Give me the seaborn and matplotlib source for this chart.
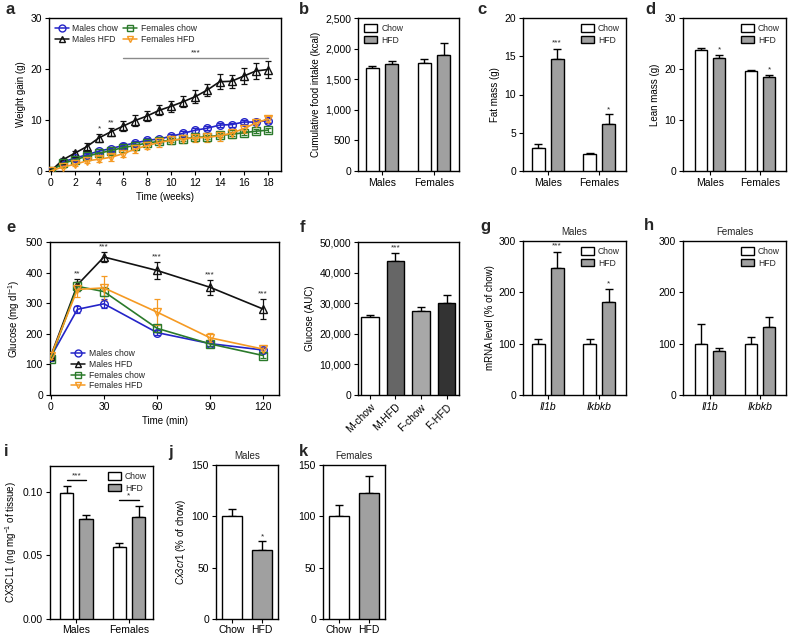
import matplotlib
matplotlib.use("Agg")
import matplotlib.pyplot as plt
import matplotlib.ticker as tick
from matplotlib.lines import Line2D
from matplotlib.patches import Patch
import numpy as np
import pandas as pd
import seaborn as sns

W, H = 788, 634
DPI = 100

BLUE = "#2424c8"
GREEN = "#2b7a2b"
ORANGE = "#f59a23"
BLACK = "#111111"
GREY = "#a0a0a0"

# ---- a: weight gain (g) over 18 weeks
WEEKS = list(range(19))
GAIN_M_CHOW = [0, 1.8, 2.5, 3.2, 3.9, 4.4, 5.0, 5.5, 6.0, 6.3, 6.8, 7.4, 8.0, 8.4, 9.0, 9.1, 9.6, 9.6, 9.9]
GAIN_M_CHOW_ERR = [0, 0.3, 0.3, 0.3, 0.4, 0.4, 0.4, 0.4, 0.4, 0.4, 0.4, 0.4, 0.5, 0.4, 0.4, 0.4, 0.4, 0.4, 0.5]
GAIN_M_HFD = [0, 2.2, 3.5, 4.8, 6.5, 7.7, 8.8, 9.9, 10.8, 11.9, 12.7, 13.6, 14.6, 15.9, 17.5, 17.6, 18.6, 19.6, 19.9]
GAIN_M_HFD_ERR = [0, 0.4, 0.5, 0.6, 0.8, 0.8, 1.0, 1.0, 1.0, 1.0, 1.1, 1.1, 1.2, 1.2, 1.5, 1.3, 1.5, 1.6, 1.6]
GAIN_F_CHOW = [0, 1.5, 2.2, 2.9, 3.5, 4.0, 4.6, 5.0, 5.5, 5.8, 6.0, 6.3, 6.6, 6.7, 7.0, 7.2, 7.5, 7.8, 8.0]
GAIN_F_CHOW_ERR = [0, 0.2, 0.3, 0.3, 0.3, 0.3, 0.3, 0.3, 0.3, 0.4, 0.4, 0.4, 0.4, 0.4, 0.4, 0.4, 0.4, 0.4, 0.4]
GAIN_F_HFD = [0, 0.8, 1.3, 2.0, 2.3, 2.7, 3.4, 4.3, 5.0, 5.6, 6.0, 6.3, 6.5, 6.6, 6.9, 7.4, 8.3, 9.4, 10.2]
GAIN_F_HFD_ERR = [0, 0.3, 0.4, 0.5, 0.6, 0.7, 0.7, 0.7, 0.7, 0.8, 0.8, 0.8, 0.8, 0.9, 1.0, 0.9, 0.8, 0.7, 0.6]

GROUP_NAMES = ["Males chow", "Males HFD", "Females chow", "Females HFD"]
GROUP_COLORS = [BLUE, BLACK, GREEN, ORANGE]
GROUP_MARKERS = ["o", "^", "s", "v"]

# ---- b/c/d: bars by sex
SEXES = ["Males", "Females"]
FOOD_CHOW = [1675, 1760]
FOOD_CHOW_ERR = [42, 65]
FOOD_HFD = [1750, 1900]
FOOD_HFD_ERR = [50, 190]
FAT_CHOW = [3.0, 2.2]
FAT_CHOW_ERR = [0.5, 0.15]
FAT_HFD = [14.7, 6.2]
FAT_HFD_ERR = [1.3, 1.2]
LEAN_CHOW = [23.7, 19.6]
LEAN_CHOW_ERR = [0.4, 0.2]
LEAN_HFD = [22.2, 18.5]
LEAN_HFD_ERR = [0.5, 0.3]

# ---- e: glucose tolerance
MINUTES = [0, 15, 30, 60, 90, 120]
GLU_M_CHOW = [125, 280, 298, 204, 168, 147]
GLU_M_CHOW_ERR = [8, 12, 15, 8, 8, 8]
GLU_M_HFD = [128, 360, 451, 407, 352, 281]
GLU_M_HFD_ERR = [8, 20, 15, 28, 25, 33]
GLU_F_CHOW = [118, 355, 338, 218, 167, 129]
GLU_F_CHOW_ERR = [8, 15, 15, 12, 8, 8]
GLU_F_HFD = [127, 345, 350, 271, 187, 150]
GLU_F_HFD_ERR = [8, 25, 38, 42, 15, 8]

# ---- f: glucose AUC
AUC_LABELS = ["M-chow", "M-HFD", "F-chow", "F-HFD"]
AUC_VALUES = [25400, 43900, 27300, 30000]
AUC_ERR = [600, 2600, 1400, 2700]
AUC_COLORS = ["#ffffff", "#666666", "#a8a8a8", "#333333"]

# ---- g/h: mRNA
GENES = ["Il1b", "Ikbkb"]
MRNA_M_CHOW = [100, 100]
MRNA_M_CHOW_ERR = [10, 10]
MRNA_M_HFD = [247, 181]
MRNA_M_HFD_ERR = [31, 26]
MRNA_F_CHOW = [100, 100]
MRNA_F_CHOW_ERR = [39, 13]
MRNA_F_HFD = [86, 133]
MRNA_F_HFD_ERR = [6, 19]

# ---- i: CX3CL1
CX3CL1_CHOW = [0.099, 0.0565]
CX3CL1_CHOW_ERR = [0.005, 0.0035]
CX3CL1_HFD = [0.0788, 0.080]
CX3CL1_HFD_ERR = [0.003, 0.009]

# ---- j/k: Cx3cr1
DIETS = ["Chow", "HFD"]
CX3CR1_M = [100, 67]
CX3CR1_M_ERR = [7, 9]
CX3CR1_F = [100, 123]
CX3CR1_F_ERR = [11, 16]

sns.set_style("ticks")
plt.rcParams.update({
    "font.family": ["Liberation Sans", "DejaVu Sans"],
    "mathtext.fontset": "custom",
    "mathtext.rm": "Liberation Sans",
    "mathtext.it": "Liberation Sans:italic",
    "mathtext.bf": "Liberation Sans:bold",
    "axes.linewidth": 1.0,
    "axes.edgecolor": "black",
    "xtick.color": "black",
    "ytick.color": "black",
    "axes.labelcolor": "black",
    "axes.labelpad": 3,
})

TICK_FS = 7.5
LABEL_FS = 7
LEG_FS = 6.2


def px_axes(fig, x0, y0, x1, y1):
    return fig.add_axes([x0 / W, 1 - y1 / H, (x1 - x0) / W, (y1 - y0) / H])


def style(ax, xpad=2):
    for s in ax.spines.values():
        s.set_visible(True)
        s.set_linewidth(1.0)
        s.set_color("black")
    ax.tick_params(direction="out", length=3, width=0.8, labelsize=TICK_FS,
                   top=False, right=False, pad=2)
    ax.tick_params(axis="x", pad=xpad)


def line_panel(ax, x, series, errs):
    for name, ys, es, c, m in zip(GROUP_NAMES, series, errs, GROUP_COLORS, GROUP_MARKERS):
        ax.errorbar(x, ys, yerr=es, fmt="none", ecolor=c, elinewidth=0.9,
                    capsize=2.5, capthick=0.9, zorder=2)
        sns.lineplot(x=x, y=ys, color=c, marker=m, markersize=5.5,
                     markerfacecolor="none", markeredgecolor=c, markeredgewidth=1.0,
                     linewidth=1.2, errorbar=None, ax=ax, zorder=3)


def line_handles():
    return [Line2D([], [], color=c, marker=m, mfc="none", mec=c, ms=5, lw=1.1, label=n)
            for n, c, m in zip(GROUP_NAMES, GROUP_COLORS, GROUP_MARKERS)]


def bar_panel(ax, cats, chow, chow_err, hfd, hfd_err, width=0.74, gap=0.33):
    df = pd.DataFrame({
        "cat": list(cats) * 2,
        "diet": ["Chow"] * len(cats) + ["HFD"] * len(cats),
        "value": list(chow) + list(hfd),
    })
    sns.barplot(data=df, x="cat", y="value", hue="diet", order=cats,
                hue_order=["Chow", "HFD"], palette={"Chow": "white", "HFD": GREY},
                edgecolor="black", linewidth=1.0, width=width, gap=gap,
                errorbar=None, legend=False, ax=ax, zorder=3)
    patches = sorted(ax.patches, key=lambda p: p.get_x())
    errs = []
    for i in range(len(cats)):
        errs += [chow_err[i], hfd_err[i]]
    tops = []
    for p, e in zip(patches, errs):
        cx = p.get_x() + p.get_width() / 2
        ax.errorbar(cx, p.get_height(), yerr=[[0], [e]], fmt="none", ecolor="black",
                    elinewidth=1.0, capsize=3, capthick=1.0, zorder=2)
        tops.append((cx, p.get_height() + e))
    ax.set_xlabel("")
    ax.set_ylabel("")
    return tops


def bar_legend(ax, loc="upper right"):
    handles = [Patch(facecolor="white", edgecolor="black", lw=1.0, label="Chow"),
               Patch(facecolor=GREY, edgecolor="black", lw=1.0, label="HFD")]
    ax.legend(handles=handles, loc=loc, frameon=False, fontsize=LEG_FS,
              handlelength=1.5, handleheight=0.9, handletextpad=0.5,
              labelspacing=0.3, borderaxespad=0.3)


def star(ax, x, y, s, dy):
    ax.text(x, y + dy, s, ha="center", va="bottom", fontsize=6)


fig = plt.figure(figsize=(W / DPI, H / DPI), dpi=DPI)

# ---------------- a
ax = px_axes(fig, 49, 18, 281, 171)
line_panel(ax, WEEKS, [GAIN_M_CHOW, GAIN_M_HFD, GAIN_F_CHOW, GAIN_F_HFD],
           [GAIN_M_CHOW_ERR, GAIN_M_HFD_ERR, GAIN_F_CHOW_ERR, GAIN_F_HFD_ERR])
ax.set_xlim(-0.15, 19.1)
ax.set_ylim(0, 30)
ax.set_xticks(range(0, 19, 2))
ax.set_yticks([0, 10, 20, 30])
ax.set_xlabel("Time (weeks)", fontsize=LABEL_FS)
ax.set_ylabel("Weight gain (g)", fontsize=LABEL_FS)
ax.plot([6, 18], [22.2, 22.2], color="#8a8a8a", lw=1.0)
ax.text(12, 22.4, "***", ha="center", va="bottom", fontsize=6)
star(ax, 4, GAIN_M_HFD[4] + GAIN_M_HFD_ERR[4], "*", 0.2)
star(ax, 5, GAIN_M_HFD[5] + GAIN_M_HFD_ERR[5], "**", 0.2)
h = line_handles()
ax.legend(handles=h, ncol=2, loc="upper left", frameon=False,
          fontsize=LEG_FS, handlelength=1.6, handletextpad=0.4, columnspacing=0.6,
          labelspacing=0.25, borderaxespad=0.3)
style(ax)

# ---------------- b
ax = px_axes(fig, 358, 18, 459, 171)
bar_panel(ax, SEXES, FOOD_CHOW, FOOD_CHOW_ERR, FOOD_HFD, FOOD_HFD_ERR)
ax.set_xlim(-0.46, 1.48)
ax.set_ylim(0, 2500)
ax.set_yticks(range(0, 2501, 500))
ax.yaxis.set_major_formatter(tick.FuncFormatter(lambda v, p: f"{int(v):,}"))
ax.set_ylabel("Cumulative food intake (kcal)", fontsize=LABEL_FS)
bar_legend(ax, "upper left")
style(ax)

# ---------------- c
ax = px_axes(fig, 523, 18, 626, 171)
tops = bar_panel(ax, SEXES, FAT_CHOW, FAT_CHOW_ERR, FAT_HFD, FAT_HFD_ERR)
ax.set_xlim(-0.48, 1.52)
ax.set_ylim(0, 20)
ax.set_yticks([0, 5, 10, 15, 20])
ax.set_ylabel("Fat mass (g)", fontsize=LABEL_FS)
star(ax, tops[1][0], tops[1][1], "***", 0.3)
star(ax, tops[3][0], tops[3][1], "*", 0.1)
bar_legend(ax)
style(ax)

# ---------------- d
ax = px_axes(fig, 683, 18, 786, 171)
tops = bar_panel(ax, SEXES, LEAN_CHOW, LEAN_CHOW_ERR, LEAN_HFD, LEAN_HFD_ERR)
ax.set_xlim(-0.54, 1.52)
ax.set_ylim(0, 30)
ax.set_yticks([0, 10, 20, 30])
ax.set_ylabel("Lean mass (g)", fontsize=LABEL_FS)
star(ax, tops[1][0], tops[1][1], "*", 0.3)
star(ax, tops[3][0], tops[3][1], "*", 0.3)
bar_legend(ax)
style(ax)

# ---------------- e
ax = px_axes(fig, 50, 242, 279, 395)
line_panel(ax, MINUTES, [GLU_M_CHOW, GLU_M_HFD, GLU_F_CHOW, GLU_F_HFD],
           [GLU_M_CHOW_ERR, GLU_M_HFD_ERR, GLU_F_CHOW_ERR, GLU_F_HFD_ERR])
ax.set_xlim(-0.5, 129)
ax.set_ylim(0, 500)
ax.set_xticks([0, 30, 60, 90, 120])
ax.set_yticks(range(0, 501, 100))
ax.set_xlabel("Time (min)", fontsize=LABEL_FS)
ax.set_ylabel("Glucose (mg dl$^{-1}$)", fontsize=LABEL_FS)
for i, s in zip(range(1, 6), ["**", "***", "***", "***", "***"]):
    star(ax, MINUTES[i], GLU_M_HFD[i] + GLU_M_HFD_ERR[i], s, 5)
ax.legend(handles=line_handles(), loc="lower left", frameon=False, fontsize=LEG_FS,
          handlelength=1.6, handletextpad=0.4, labelspacing=0.2,
          bbox_to_anchor=(0.06, -0.02))
style(ax)

# ---------------- f
ax = px_axes(fig, 358, 242, 459, 395)
sns.barplot(x=AUC_LABELS, y=AUC_VALUES, hue=AUC_LABELS,
            palette=dict(zip(AUC_LABELS, AUC_COLORS)), edgecolor="black",
            linewidth=1.0, width=0.7, errorbar=None, legend=False, ax=ax, zorder=3)
for p, e in zip(sorted(ax.patches, key=lambda p: p.get_x()), AUC_ERR):
    cx = p.get_x() + p.get_width() / 2
    ax.errorbar(cx, p.get_height(), yerr=[[0], [e]], fmt="none", ecolor="black",
                elinewidth=1.0, capsize=3, capthick=1.0, zorder=2)
star(ax, 1, AUC_VALUES[1] + AUC_ERR[1], "***", 500)
ax.set_xlim(-0.47, 3.49)
ax.set_ylim(0, 50000)
ax.set_yticks(range(0, 50001, 10000))
ax.yaxis.set_major_formatter(tick.FuncFormatter(lambda v, p: f"{int(v):,}"))
ax.set_ylabel("Glucose (AUC)", fontsize=LABEL_FS)
style(ax)
plt.setp(ax.get_xticklabels(), rotation=45, ha="right", rotation_mode="anchor")

# ---------------- g
ax = px_axes(fig, 523, 241, 626, 395)
tops = bar_panel(ax, GENES, MRNA_M_CHOW, MRNA_M_CHOW_ERR, MRNA_M_HFD, MRNA_M_HFD_ERR)
ax.set_xlim(-0.48, 1.52)
ax.set_ylim(0, 300)
ax.set_yticks([0, 100, 200, 300])
ax.set_ylabel("mRNA level (% of chow)", fontsize=LABEL_FS)
ax.set_title("Males", fontsize=LABEL_FS, pad=4)
star(ax, tops[1][0], tops[1][1], "***", 5)
star(ax, tops[3][0], tops[3][1], "*", 3)
bar_legend(ax)
style(ax)
plt.setp(ax.get_xticklabels(), fontstyle="italic")

# ---------------- h
ax = px_axes(fig, 683, 241, 786, 395)
bar_panel(ax, GENES, MRNA_F_CHOW, MRNA_F_CHOW_ERR, MRNA_F_HFD, MRNA_F_HFD_ERR)
ax.set_xlim(-0.54, 1.52)
ax.set_ylim(0, 300)
ax.set_yticks([0, 100, 200, 300])
ax.set_title("Females", fontsize=LABEL_FS, pad=4)
bar_legend(ax)
style(ax)
plt.setp(ax.get_xticklabels(), fontstyle="italic")

# ---------------- i
ax = px_axes(fig, 50, 466, 153, 619)
tops = bar_panel(ax, SEXES, CX3CL1_CHOW, CX3CL1_CHOW_ERR, CX3CL1_HFD, CX3CL1_HFD_ERR)
ax.set_xlim(-0.5, 1.46)
ax.set_ylim(0, 0.12)
ax.set_yticks([0, 0.05, 0.10])
ax.yaxis.set_major_formatter(tick.FormatStrFormatter("%.2f"))
ax.set_ylabel("CX3CL1 (ng mg$^{-1}$ of tissue)", fontsize=LABEL_FS)
for (a, b), y, s in [((tops[0][0], tops[1][0]), 0.1088, "***"),
                     ((tops[2][0], tops[3][0]), 0.0932, "*")]:
    ax.plot([a, b], [y, y], color="black", lw=1.0)
    ax.text((a + b) / 2, y + 0.001, s, ha="center", va="bottom", fontsize=6)
bar_legend(ax)
style(ax, xpad=1)

# ---------------- j / k
for (x0, x1), vals, errs, title, ylab in [
        ((216, 278), CX3CR1_M, CX3CR1_M_ERR, "Males", "$\\mathit{Cx3cr1}$ (% of chow)"),
        ((323, 385), CX3CR1_F, CX3CR1_F_ERR, "Females", None)]:
    ax = px_axes(fig, x0, 465, x1, 619)
    sns.barplot(x=DIETS, y=vals, hue=DIETS, palette={"Chow": "white", "HFD": GREY},
                edgecolor="black", linewidth=1.0, width=0.67, errorbar=None,
                legend=False, ax=ax, zorder=3)
    for p, e in zip(sorted(ax.patches, key=lambda p: p.get_x()), errs):
        cx = p.get_x() + p.get_width() / 2
        ax.errorbar(cx, p.get_height(), yerr=[[0], [e]], fmt="none", ecolor="black",
                    elinewidth=1.0, capsize=3, capthick=1.0, zorder=2)
    if title == "Males":
        star(ax, 1, vals[1] + errs[1], "*", 1)
    ax.set_xlim(-0.53, 1.53)
    ax.set_ylim(0, 150)
    ax.set_yticks([0, 50, 100, 150])
    ax.set_title(title, fontsize=LABEL_FS, pad=4)
    if ylab:
        ax.set_ylabel(ylab, fontsize=LABEL_FS)
    style(ax, xpad=1)

# panel letters
for letter, (x, y) in {"a": (10, 10), "b": (304, 10), "c": (482, 10), "d": (650, 10),
                       "e": (11, 227), "f": (302, 227), "g": (485, 226), "h": (649, 226),
                       "i": (6, 452), "j": (171, 452), "k": (303, 451)}.items():
    fig.text(x / W, 1 - y / H, letter, fontsize=12, fontweight="bold",
             ha="center", va="center")

fig.savefig("out.png", dpi=DPI)
